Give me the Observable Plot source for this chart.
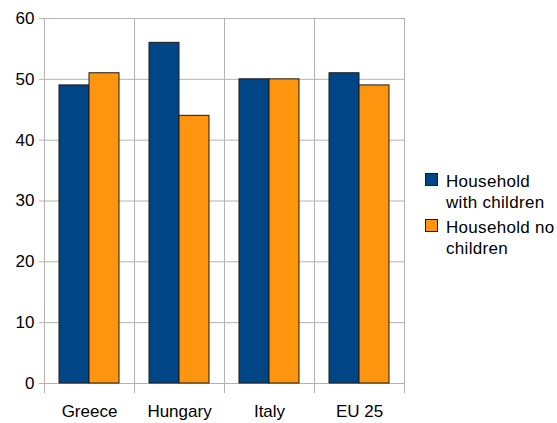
<!DOCTYPE html>
<html>
<head>
<meta charset="utf-8">
<script src="https://cdn.jsdelivr.net/npm/d3@7"></script>
<script src="https://cdn.jsdelivr.net/npm/@observablehq/plot@0.6"></script>
<style>
  html, body { margin: 0; padding: 0; background: #fff; }
  #chart { position: relative; width: 557px; height: 423px; font-family: "Liberation Sans", Arial, sans-serif; }
  #chart svg { display: block; }
  .legend { position: absolute; left: 425px; top: 171px; font-size: 17px; color: #000; letter-spacing: 0.3px; }
  .legend .item { position: relative; padding-left: 21px; line-height: 21px; margin-bottom: 4px; white-space: nowrap; }
  .legend .sw { position: absolute; left: 0; top: 2px; width: 11px; height: 11px; border: 1px solid #1a1a1a; }
</style>
</head>
<body>
<div id="chart"></div>
<script>
const countries = ["Greece", "Hungary", "Italy", "EU 25"];
const series = ["Household with children", "Household no children"];
const legendLines = [["Household", "with children"], ["Household no", "children"]];
const withChildren = [49, 56, 50, 51];
const noChildren = [51, 44, 50, 49];
const colors = ["#004586", "#ff950e"];
const yTicks = [0, 10, 20, 30, 40, 50, 60];

const rows = countries.flatMap((c, i) => [
  {country: c, series: series[0], value: withChildren[i]},
  {country: c, series: series[1], value: noChildren[i]}
]);

const grid = "#b3b3b3";

const plot = Plot.plot({
  width: 557,
  height: 423,
  marginLeft: 43,
  marginRight: 152,
  marginTop: 18,
  marginBottom: 40,
  style: {fontFamily: "Liberation Sans, Arial, sans-serif", fontSize: "17px", color: "#000", background: "#fff"},
  fx: {domain: countries, padding: 0, label: null},
  x: {domain: series, paddingInner: 0, paddingOuter: 0.5, axis: null},
  y: {domain: [0, 60], label: null},
  color: {domain: series, range: colors},
  marks: [
    Plot.gridY(yTicks, {stroke: grid, strokeOpacity: 1}),
    Plot.frame({anchor: "left", stroke: grid, insetBottom: -9}),
    Plot.frame({anchor: "right", stroke: grid, insetBottom: -9}),
    Plot.barY(rows, {fx: "country", x: "series", y: "value", fill: "series", stroke: "#1a1a1a", strokeWidth: 1}),
    Plot.axisY(yTicks, {tickSize: 5, tickPadding: 5, stroke: grid, fill: "#000", fontSize: 17, label: null}),
    Plot.axisFx({anchor: "bottom", tickSize: 0, tickPadding: 21, fontSize: 17, fill: "#000", label: null, style: {letterSpacing: "0.3px"}})
  ]
});

const chart = document.getElementById("chart");
chart.appendChild(plot);

const legend = document.createElement("div");
legend.className = "legend";
series.forEach((s, i) => {
  const item = document.createElement("div");
  item.className = "item";
  const sw = document.createElement("span");
  sw.className = "sw";
  sw.style.background = colors[i];
  item.appendChild(sw);
  item.appendChild(document.createTextNode(legendLines[i][0]));
  item.appendChild(document.createElement("br"));
  item.appendChild(document.createTextNode(legendLines[i][1]));
  legend.appendChild(item);
});
chart.appendChild(legend);
</script>
</body>
</html>
